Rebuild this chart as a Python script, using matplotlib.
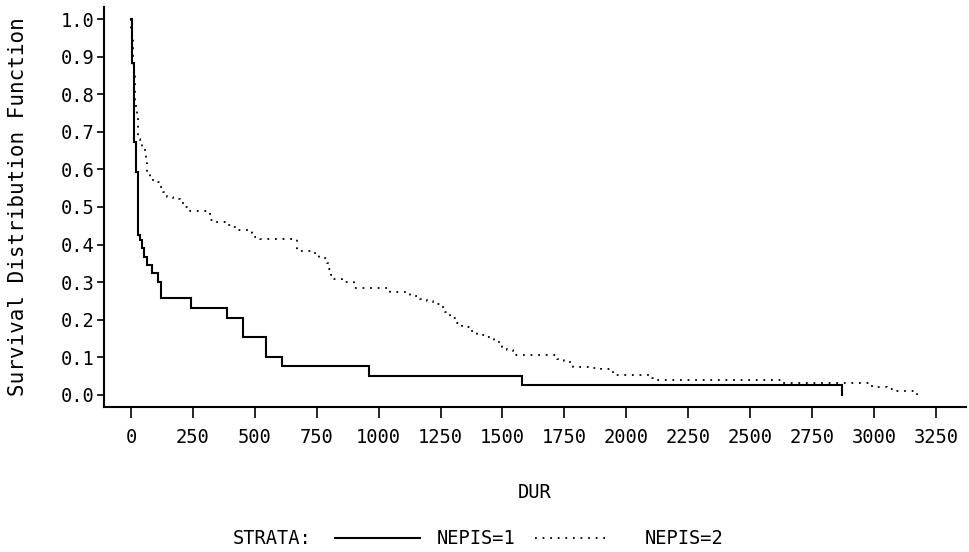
import matplotlib
matplotlib.use("Agg")
import matplotlib.pyplot as plt
from matplotlib.lines import Line2D

# Kaplan-Meier estimates by stratum: event times (DUR) and survival after each step
dur_nepis1 = [0, 4, 13, 19, 27, 36, 43, 52, 63, 86, 110, 120, 241, 389, 451,
              545, 609, 962, 1580, 2870]
surv_nepis1 = [1.0, 0.883, 0.673, 0.593, 0.426, 0.412, 0.390, 0.368, 0.346,
               0.324, 0.301, 0.257, 0.232, 0.205, 0.155, 0.101, 0.076, 0.050,
               0.026, 0.0]

dur_nepis2 = [0, 1, 2, 3, 7, 9, 15, 17, 20, 24, 27, 29, 36, 45, 57, 62, 64, 78,
              89, 117, 130, 145, 170, 198, 215, 238, 319, 335, 380, 408, 432,
              489, 500, 521, 670, 743, 759, 792, 800, 808, 816, 852, 900, 1046,
              1127, 1167, 1195, 1220, 1248, 1270, 1290, 1317, 1337, 1370, 1397,
              1430, 1465, 1498, 1519, 1543, 1720, 1750, 1773, 1785, 1854, 1900,
              1947, 2104, 2116, 2629, 2633, 2993, 3053, 3073, 3174]
surv_nepis2 = [1.0, 0.985, 0.97, 0.955, 0.88, 0.865, 0.785, 0.77, 0.755, 0.74,
               0.71, 0.68, 0.67, 0.655, 0.644, 0.617, 0.59, 0.578, 0.566,
               0.553, 0.54, 0.527, 0.522, 0.51, 0.50, 0.489, 0.465, 0.46,
               0.452, 0.447, 0.44, 0.431, 0.42, 0.414, 0.384, 0.375, 0.364,
               0.35, 0.335, 0.32, 0.309, 0.30, 0.284, 0.275, 0.264, 0.255,
               0.25, 0.242, 0.235, 0.22, 0.205, 0.191, 0.182, 0.17, 0.16,
               0.155, 0.142, 0.128, 0.12, 0.106, 0.096, 0.09, 0.085, 0.075,
               0.072, 0.069, 0.052, 0.045, 0.041, 0.033, 0.031, 0.021, 0.016,
               0.011, 0.0]

x_ticks = list(range(0, 3251, 250))
y_ticks = [0.0, 0.1, 0.2, 0.3, 0.4, 0.5, 0.6, 0.7, 0.8, 0.9, 1.0]
strata_labels = ["NEPIS=1", "NEPIS=2"]

FONT = "DejaVu Sans Mono"
FS = 13.5
plt.rcParams["font.family"] = [FONT, "DejaVu Sans"]

W, H = 969, 552
fig = plt.figure(figsize=(W / 100, H / 100), dpi=100)
# axes box in pixels: left 104, right 966, top 7, bottom 407
ax = fig.add_axes([104 / W, 1 - 407 / H, (966 - 104) / W, (407 - 7) / H])

solid_style = dict(color="black", lw=1.5, solid_joinstyle="miter")
dotted_style = dict(color="black", lw=1.3, linestyle=(0, (1, 3.2)))

ax.plot(dur_nepis1, surv_nepis1, drawstyle="steps-post", **solid_style)
ax.plot(dur_nepis2, surv_nepis2, drawstyle="steps-post", **dotted_style)

ax.set_xlim(-109, 3372)
ax.set_ylim(-0.032, 1.032)
ax.set_xticks(x_ticks)
ax.set_xticklabels([str(t) for t in x_ticks])
ax.set_yticks(y_ticks)
ax.set_yticklabels([f"{t:.1f}" for t in y_ticks])

for s in ("top", "right"):
    ax.spines[s].set_visible(False)
for s in ("left", "bottom"):
    ax.spines[s].set_linewidth(1.5)

ax.tick_params(axis="x", direction="out", length=8, width=1.2, pad=7,
               labelsize=FS)
ax.tick_params(axis="y", direction="out", length=5, width=1.2, pad=1.5,
               labelsize=FS)

ax.set_xlabel("DUR", fontsize=FS, va="center")
ax.xaxis.set_label_coords(0.5, (407 - 493) / 400)
ax.set_ylabel("Survival Distribution Function", fontsize=15, va="center")
ax.yaxis.set_label_coords((18 - 104) / 862, 0.5)

# strata key along the bottom
ky = 1 - 538 / H
fig.text(233 / W, ky, "STRATA:", fontsize=FS, va="center", ha="left")
fig.add_artist(Line2D([335 / W, 420 / W], [ky, ky], transform=fig.transFigure,
                      **solid_style))
fig.text(437 / W, ky, strata_labels[0], fontsize=FS, va="center", ha="left")
fig.add_artist(Line2D([535 / W, 605 / W], [ky, ky], transform=fig.transFigure,
                      **dotted_style))
fig.text(645 / W, ky, strata_labels[1], fontsize=FS, va="center", ha="left")

fig.savefig("out.png", dpi=100)
